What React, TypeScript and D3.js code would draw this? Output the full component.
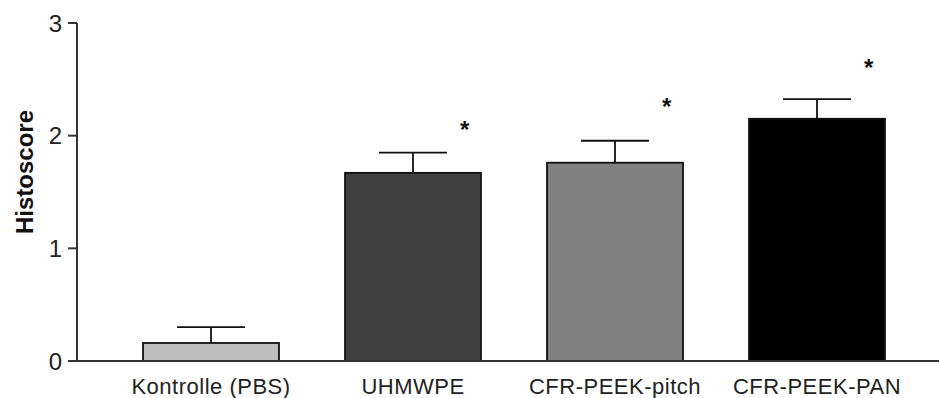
import { useEffect, useRef } from 'react';
import * as d3 from 'd3';

// Histoscore per group, mean + SEM, asterisk height (data units)
const groups = ['Kontrolle (PBS)', 'UHMWPE', 'CFR-PEEK-pitch', 'CFR-PEEK-PAN'];
const means = [0.16, 1.67, 1.76, 2.15];
const errors = [0.14, 0.18, 0.195, 0.175];
const starLevels = [null, 2.1, 2.3, 2.645];
const barColors = ['#bebebe', '#404040', '#808080', '#000000'];
const yTicks = [0, 1, 2, 3];

const WIDTH = 939;
const HEIGHT = 398;
const FONT = '"Liberation Sans", Arial, sans-serif';

export default function App() {
    const svgRef = useRef<SVGSVGElement | null>(null);

    useEffect(() => {
        if (!svgRef.current) return;
        const svg = d3.select(svgRef.current);
        svg.selectAll('*').remove();

        const axisX = 77;
        const y = d3.scaleLinear().domain([0, 3]).range([361, 23]);
        const x = d3.scaleBand<string>()
            .domain(groups)
            .range([110, 918])
            .paddingInner(0.327)
            .paddingOuter(0.1635);
        const bw = x.bandwidth();

        // Bars
        svg.selectAll('rect.bar')
            .data(groups)
            .join('rect')
            .attr('class', 'bar')
            .attr('x', d => x(d)!)
            .attr('y', (d, i) => y(means[i]))
            .attr('width', bw)
            .attr('height', (d, i) => y(0) - y(means[i]))
            .attr('fill', (d, i) => barColors[i])
            .attr('stroke', '#111')
            .attr('stroke-width', 1.8);

        // Error bars (upper only) + significance stars
        groups.forEach((g, i) => {
            const cx = x(g)! + bw / 2;
            const top = y(means[i] + errors[i]);
            svg.append('line')
                .attr('x1', cx).attr('x2', cx)
                .attr('y1', y(means[i])).attr('y2', top)
                .attr('stroke', '#111').attr('stroke-width', 1.8);
            svg.append('line')
                .attr('x1', cx - bw / 4).attr('x2', cx + bw / 4)
                .attr('y1', top).attr('y2', top)
                .attr('stroke', '#111').attr('stroke-width', 1.8);

            const s = starLevels[i];
            if (s != null) {
                svg.append('text')
                    .attr('x', cx + bw * 0.38)
                    .attr('y', y(s) + 13.5)
                    .attr('text-anchor', 'middle')
                    .style('font-family', FONT)
                    .style('font-weight', 'bold')
                    .style('font-size', '24px')
                    .style('fill', '#111')
                    .text('*');
            }
        });

        // Y axis
        svg.append('line')
            .attr('x1', axisX).attr('x2', axisX)
            .attr('y1', y(3)).attr('y2', y(0))
            .attr('stroke', '#333').attr('stroke-width', 2);
        svg.selectAll('line.ytick')
            .data(yTicks)
            .join('line')
            .attr('class', 'ytick')
            .attr('x1', axisX - 9).attr('x2', axisX)
            .attr('y1', d => y(d)).attr('y2', d => y(d))
            .attr('stroke', '#333').attr('stroke-width', 2);
        svg.selectAll('text.ylab')
            .data(yTicks)
            .join('text')
            .attr('class', 'ylab')
            .attr('x', axisX - 15)
            .attr('y', d => y(d) + 8.7)
            .attr('text-anchor', 'end')
            .style('font-family', FONT)
            .style('font-size', '24px')
            .style('fill', '#222')
            .text(d => d);

        // X axis baseline
        svg.append('line')
            .attr('x1', axisX).attr('x2', WIDTH)
            .attr('y1', y(0)).attr('y2', y(0))
            .attr('stroke', '#333').attr('stroke-width', 2);

        svg.selectAll('text.xlab')
            .data(groups)
            .join('text')
            .attr('class', 'xlab')
            .attr('x', d => x(d)! + bw / 2)
            .attr('y', 394)
            .attr('text-anchor', 'middle')
            .style('font-family', FONT)
            .style('font-size', '22px')
            .style('letter-spacing', '0.5px')
            .style('fill', '#222')
            .text(d => d);

        // Y title
        svg.append('text')
            .attr('transform', `translate(33,172) rotate(-90)`)
            .attr('text-anchor', 'middle')
            .style('font-family', FONT)
            .style('font-weight', 'bold')
            .style('font-size', '24px')
            .style('fill', '#111')
            .text('Histoscore');
    }, []);

    return (
        <svg ref={svgRef} width={WIDTH} height={HEIGHT}
            style={{ position: 'absolute', left: 0, top: 0, background: '#fff' }} />
    );
}
